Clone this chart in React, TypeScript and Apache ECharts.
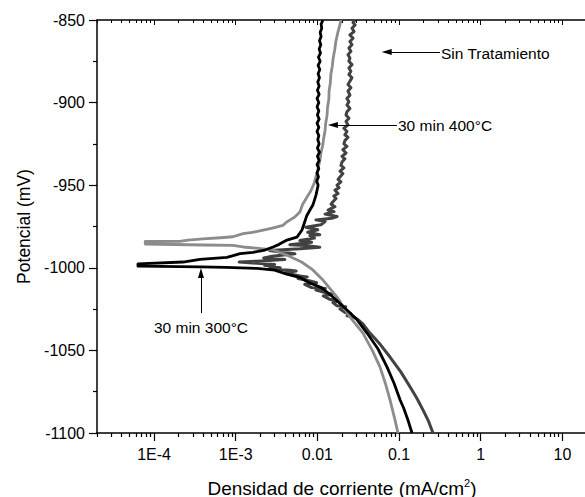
import React, { useEffect, useRef } from "react";
import * as echarts from "echarts";

const FONT = '"Liberation Sans", Arial, Helvetica, sans-serif';

// Axis ranges and tick labels
const xRange: [number, number] = [2e-5, 20];
const xTickValues = [1e-4, 1e-3, 0.01, 0.1, 1, 10];
const xTickLabels = ["1E-4", "1E-3", "0.01", "0.1", "1", "10"];
const xMinorMultipliers = [2, 3, 4, 5, 6, 7, 8, 9];
const xMinorDecades = [1e-5, 1e-4, 1e-3, 0.01, 0.1, 1, 10];
const yRange: [number, number] = [-1100, -850];
const yStep = 50;

const seriesNames = ["Sin Tratamiento", "30 min 400°C", "30 min 300°C"];
const seriesColors = ["#424242", "#8c8c8c", "#000000"];
const seriesWidths = [3, 2.8, 2.8];

// [current density (mA/cm2), potential (mV)]
const sinTratamiento: [number, number][] = [
  [0.26, -1100], [0.23, -1093], [0.196, -1086], [0.165, -1079], [0.136, -1072],
  [0.105, -1063], [0.0774, -1054], [0.059, -1046.5], [0.044, -1039.5], [0.036, -1034],
  [0.0306, -1031], [0.0282, -1030], [0.0231, -1029], [0.0254, -1027.5], [0.0218, -1027],
  [0.0189, -1025], [0.0222, -1023.5], [0.0174, -1023], [0.0155, -1021], [0.0185, -1020],
  [0.0140, -1019], [0.0118, -1017], [0.0152, -1016], [0.0124, -1015], [0.0096, -1013.5],
  [0.0125, -1012.5], [0.0085, -1012], [0.0070, -1010], [0.0098, -1009], [0.0081, -1008],
  [0.0058, -1006.5], [0.0075, -1005.5], [0.0061, -1005], [0.0040, -1003], [0.0055, -1002],
  [0.0046, -1001.5], [0.0026, -1000.5], [0.0035, -1000], [0.00226, -998.5], [0.0030, -998],
  [0.0011, -996.5], [0.0018, -996], [0.0040, -995], [0.0022, -994], [0.0028, -993],
  [0.0053, -991.5], [0.0035, -990.5], [0.0026, -989.5], [0.0061, -988.5], [0.0107, -987.5],
  [0.0072, -986.5], [0.0046, -986], [0.0085, -984.5], [0.0061, -983.5], [0.0092, -982],
  [0.0081, -980.5], [0.0107, -980], [0.0076, -978.5], [0.0101, -977], [0.0072, -975.5],
  [0.0110, -974], [0.0124, -972], [0.0096, -971], [0.0150, -970], [0.0174, -969],
  [0.0124, -967.5], [0.0160, -966], [0.0135, -965], [0.0164, -963], [0.0147, -961.5],
  [0.0155, -960], [0.0169, -958], [0.0159, -956.5], [0.0179, -955], [0.0164, -953],
  [0.0184, -951.5], [0.0174, -950], [0.0194, -948], [0.0179, -946.5], [0.0189, -945],
  [0.0205, -943], [0.0189, -941.5], [0.0211, -939.5], [0.0194, -938], [0.0200, -936],
  [0.0217, -934], [0.0200, -932.5], [0.0224, -930.5], [0.0205, -928.5], [0.0230, -926.5],
  [0.0211, -925], [0.0217, -923], [0.0237, -921], [0.0217, -919.5], [0.0230, -917.5],
  [0.0211, -915.5], [0.0237, -913.5], [0.0224, -911.5], [0.0243, -909.5], [0.0224, -907.5],
  [0.0230, -905.5], [0.0250, -903.5], [0.0230, -901.5], [0.0243, -899.5], [0.0230, -897.5],
  [0.0250, -895.5], [0.0237, -893], [0.0257, -891], [0.0237, -889], [0.0250, -887],
  [0.0265, -885], [0.0243, -883], [0.0257, -881], [0.0243, -879], [0.0265, -877],
  [0.0243, -875], [0.0250, -873], [0.0237, -871], [0.0257, -869], [0.0243, -867],
  [0.0265, -865], [0.0250, -863], [0.0273, -861], [0.0250, -859], [0.0281, -857],
  [0.0265, -855], [0.0289, -853], [0.0273, -851.5], [0.0289, -850],
];

const min30_400: [number, number][] = [
  [0.097, -1100], [0.088, -1091], [0.0774, -1080], [0.068, -1070], [0.0583, -1060],
  [0.047, -1050], [0.0361, -1039.5], [0.0251, -1029.8], [0.0174, -1017.7], [0.0117, -1007.4],
  [0.0088, -1001.3], [0.0064, -996.5], [0.0042, -992.3], [0.0029, -989.2], [0.0019, -988.2],
  [0.00123, -987.4], [0.00092, -986.4], [0.0004, -986.2], [0.000078, -985.6], [0.000078, -984.0],
  [0.000207, -984.0], [0.00026, -983.2], [0.000397, -982.5], [0.00065, -981.8], [0.00092, -981.2],
  [0.00123, -979.3], [0.0016, -978.6], [0.0021, -977.3], [0.0028, -976.0], [0.00378, -974.3],
  [0.0042, -972.3], [0.0052, -969.5], [0.0061, -966.2], [0.0066, -961.5], [0.0074, -957.5],
  [0.0083, -953.5], [0.0091, -949], [0.0097, -944], [0.0103, -939], [0.0108, -934],
  [0.0111, -930], [0.0116, -926], [0.0119, -922], [0.0124, -917], [0.0126, -913],
  [0.0131, -908], [0.0133, -903], [0.0138, -898], [0.0139, -893], [0.0144, -888],
  [0.0146, -883], [0.0152, -878], [0.0156, -873], [0.0163, -868], [0.0168, -863],
  [0.0177, -858], [0.0186, -854], [0.0195, -850],
];

const min30_300: [number, number][] = [
  [0.144, -1100], [0.128, -1092], [0.114, -1085], [0.103, -1080], [0.087, -1070],
  [0.0711, -1060], [0.055, -1049], [0.0405, -1039.5], [0.03, -1031], [0.023, -1025.5],
  [0.0155, -1017.7], [0.0112, -1012], [0.0081, -1009.2], [0.0062, -1006], [0.0042, -1003.8],
  [0.003, -1001.4], [0.00182, -1000.4], [0.00075, -999.8], [0.000365, -999.5], [0.0000635, -999.0],
  [0.0000635, -997.6], [0.000226, -996.5], [0.000365, -994.9], [0.00078, -993.7], [0.00113, -991.4],
  [0.00163, -990.6], [0.0022, -989.5], [0.00286, -987.4], [0.0034, -985.8], [0.00424, -983.2],
  [0.00562, -981.4], [0.006, -979.5], [0.00647, -977.1], [0.0069, -973], [0.0074, -968.5],
  [0.0081, -965], [0.0088, -962], [0.0092, -959], [0.0096, -956], [0.0099, -953],
  [0.0102, -950], [0.0098, -947.5], [0.0103, -945], [0.0099, -942.5], [0.0104, -940],
  [0.0099, -937.5], [0.0105, -935], [0.0100, -932.5], [0.0106, -930], [0.0100, -927.5],
  [0.0105, -925], [0.0101, -922.5], [0.0104, -920], [0.0099, -917.5], [0.0104, -915],
  [0.0099, -912.5], [0.0105, -910], [0.0100, -907.5], [0.0104, -905], [0.0099, -902.5],
  [0.0104, -900], [0.0099, -897.5], [0.0105, -895], [0.0100, -892.5], [0.0105, -890],
  [0.0101, -887.5], [0.0106, -885], [0.0102, -882.5], [0.0107, -880], [0.0102, -877.5],
  [0.0108, -875], [0.0103, -872.5], [0.0109, -870], [0.0105, -867.5], [0.0110, -865],
  [0.0106, -862.5], [0.0111, -860], [0.0108, -857.5], [0.0113, -855], [0.0111, -852.5],
  [0.0117, -850],
];

// Annotation arrows: tail -> tip, in data units [current, potential]
const arrowTails: [number, number][] = [[0.317, -869.4], [0.0942, -913.6], [0.000375, -1027.4]];
const arrowTips: [number, number][] = [[0.0705, -869.4], [0.0155, -913.6], [0.000375, -1003.1]];

const lg = (v: number) => Math.log10(v);

export default function App() {
  const ref = useRef<HTMLDivElement>(null);

  useEffect(() => {
    if (!ref.current) return;
    const chart = echarts.init(ref.current, undefined, { renderer: "svg" });

    const majorTicks = xTickValues.map(lg);
    const minorTicks: number[] = [];
    xMinorDecades.forEach((d) =>
      xMinorMultipliers.forEach((m) => {
        const v = d * m;
        if (v >= xRange[0] && v <= xRange[1]) minorTicks.push(lg(v));
      })
    );

    const xBase = {
      type: "value" as const,
      min: lg(xRange[0]),
      max: lg(xRange[1]),
      splitLine: { show: false },
      gridIndex: 0,
    };

    const allData = [sinTratamiento, min30_400, min30_300];

    const option: any = {
      animation: false,
      backgroundColor: "#ffffff",
      textStyle: { fontFamily: FONT },
      grid: { left: 97, right: -2, top: 20, bottom: 64, containLabel: false, outerBoundsMode: "none" },
      xAxis: [
        {
          ...xBase,
          position: "bottom",
          axisLine: { show: true, onZero: false, lineStyle: { color: "#000", width: 1.5 } },
          axisTick: { show: true, customValues: majorTicks, length: 8, lineStyle: { color: "#000", width: 1.2 } },
          axisLabel: {
            show: true,
            customValues: majorTicks,
            margin: 13,
            color: "#000",
            fontSize: 16,
            fontFamily: FONT,
            formatter: (v: number) => {
              const i = majorTicks.findIndex((t) => Math.abs(t - v) < 1e-6);
              return i >= 0 ? xTickLabels[i] : "";
            },
          },
          name: "{a|Densidad de corriente (mA/cm}{s|2}{a|)}",
          nameLocation: "middle",
          nameGap: 44,
          nameTextStyle: {
            rich: {
              a: { fontSize: 19, fontFamily: FONT, color: "#000", lineHeight: 22 },
              s: { fontSize: 11, fontFamily: FONT, color: "#000", verticalAlign: "top", lineHeight: 14 },
            },
          },
        },
        {
          ...xBase,
          position: "bottom",
          axisLine: { show: false, onZero: false },
          axisTick: { show: true, customValues: minorTicks, length: 4, lineStyle: { color: "#000", width: 1.2 } },
          axisLabel: { show: false },
        },
        {
          ...xBase,
          position: "top",
          axisLine: { show: true, onZero: false, lineStyle: { color: "#000", width: 1.5 } },
          axisTick: { show: true, inside: true, customValues: majorTicks, length: 5, lineStyle: { color: "#000", width: 1 } },
          axisLabel: { show: false },
        },
        {
          ...xBase,
          position: "top",
          axisLine: { show: false, onZero: false },
          axisTick: { show: true, inside: true, customValues: minorTicks, length: 3, lineStyle: { color: "#000", width: 1 } },
          axisLabel: { show: false },
        },
      ],
      yAxis: [
        {
          type: "value",
          min: yRange[0],
          max: yRange[1],
          interval: yStep,
          position: "left",
          splitLine: { show: false },
          axisLine: { show: true, onZero: false, lineStyle: { color: "#000", width: 1.5 } },
          axisTick: { show: true, length: 8, lineStyle: { color: "#000", width: 1.2 } },
          minorTick: { show: true, splitNumber: 2, length: 4, lineStyle: { color: "#000", width: 1.2 } },
          minorSplitLine: { show: false },
          axisLabel: {
            color: "#000",
            fontSize: 16,
            fontFamily: FONT,
            margin: 12,
            formatter: (v: number) => String(v),
          },
          name: "Potencial (mV)",
          nameLocation: "middle",
          nameGap: 59,
          nameTextStyle: { fontSize: 17.5, fontFamily: FONT, color: "#000" },
        },
      ],
      series: allData.map((d, i) => ({
        name: seriesNames[i],
        type: "line",
        xAxisIndex: 0,
        yAxisIndex: 0,
        data: d.map(([c, p]) => [lg(c), p]),
        showSymbol: false,
        symbol: "none",
        lineStyle: { color: seriesColors[i], width: seriesWidths[i], join: "round" },
        itemStyle: { color: seriesColors[i] },
        z: 2 + i,
        ...(i === 2
          ? {
              markLine: {
                silent: true,
                animation: false,
                symbol: ["none", "triangle"],
                symbolSize: [6, 10],
                label: { show: false },
                lineStyle: { color: "#000", width: 1, type: "solid" },
                itemStyle: { color: "#000" },
                data: arrowTails.map((t, k) => [
                  { coord: [lg(t[0]), t[1]] },
                  { coord: [lg(arrowTips[k][0]), arrowTips[k][1]] },
                ]),
              },
            }
          : {}),
      })),
      graphic: [
        {
          type: "text",
          x: 441,
          y: 53,
          style: { text: seriesNames[0], font: `15.5px ${FONT}`, fill: "#000", align: "left", verticalAlign: "middle" },
        },
        {
          type: "text",
          x: 398,
          y: 125,
          style: { text: seriesNames[1], font: `15.5px ${FONT}`, fill: "#000", align: "left", verticalAlign: "middle" },
        },
        {
          type: "text",
          x: 201,
          y: 327,
          style: { text: seriesNames[2], font: `15.5px ${FONT}`, fill: "#000", align: "center", verticalAlign: "middle" },
        },
      ],
    };

    chart.setOption(option);
    return () => chart.dispose();
  }, []);

  return (
    <div
      ref={ref}
      style={{ position: "fixed", left: 0, top: 0, width: 585, height: 497, background: "#fff" }}
    />
  );
}
